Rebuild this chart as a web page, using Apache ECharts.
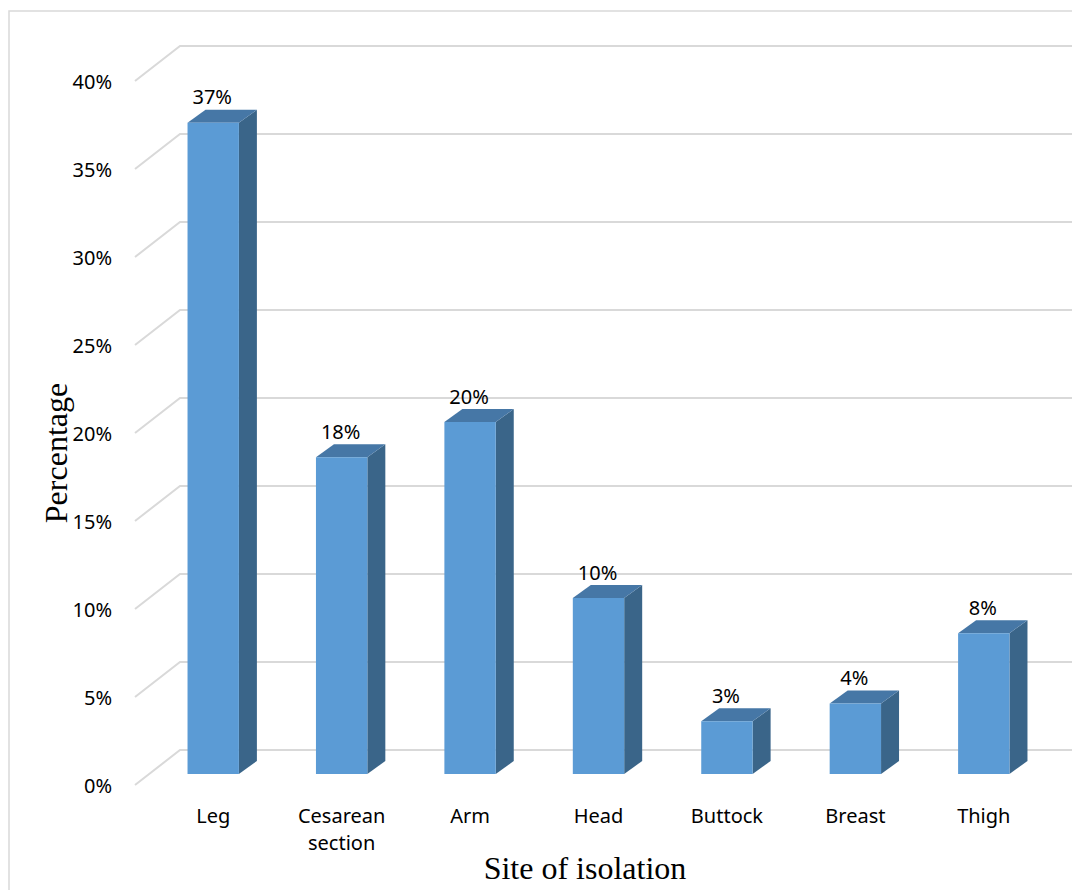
<!DOCTYPE html>
<html>
<head>
<meta charset="utf-8">
<title>Site of isolation</title>
<script src="https://cdn.jsdelivr.net/npm/echarts@6/dist/echarts.min.js"></script>
<style>
  html, body { margin: 0; padding: 0; background: #ffffff; }
  #chart { width: 1072px; height: 890px; }
</style>
</head>
<body>
<div id="chart"></div>
<script>
// Distribution of isolates by body site
const categories = ['Leg', 'Cesarean\nsection', 'Arm', 'Head', 'Buttock', 'Breast', 'Thigh'];
const percentages = [37, 18, 20, 10, 3, 4, 8];
const yTicks = [0, 5, 10, 15, 20, 25, 30, 35, 40];

const LABEL_FONT = '"Noto Sans", "Open Sans", sans-serif';
const TITLE_FONT = '"Liberation Serif", "DejaVu Serif", serif';

// 3D depth of the bars and of the back wall
const DEPTH_X = 18, DEPTH_Y = -13;
const FRONT_FACE = '#5b9bd5';
const SIDE_FACE = '#3a6589';
const TOP_FACE = '#4677a6';

const chart = echarts.init(document.getElementById('chart'), null, { renderer: 'svg' });

function renderGridLine(params, api) {
  const cs = params.coordSys;
  const y = api.coord([0, api.value(0)])[1];
  return {
    type: 'polyline',
    shape: { points: [[cs.x - 14, y + 11], [cs.x + 31, y - 24], [1080, y - 24]] },
    style: { stroke: '#d9d9d9', lineWidth: 2, fill: null },
    silent: true
  };
}

function renderBar(params, api) {
  const idx = api.value(0);
  const val = api.value(1);
  const top = api.coord([idx, val]);
  const base = api.coord([idx, 0]);
  const w = api.size([1, 0])[0] * 0.4;
  const x0 = top[0] - w / 2, x1 = top[0] + w / 2;
  const yT = top[1], yB = base[1];
  return {
    type: 'group',
    children: [
      {
        type: 'polygon',
        shape: { points: [[x1, yT], [x1 + DEPTH_X, yT + DEPTH_Y], [x1 + DEPTH_X, yB + DEPTH_Y], [x1, yB]] },
        style: { fill: SIDE_FACE }
      },
      {
        type: 'polygon',
        shape: { points: [[x0, yT], [x0 + DEPTH_X, yT + DEPTH_Y], [x1 + DEPTH_X, yT + DEPTH_Y], [x1, yT]] },
        style: { fill: TOP_FACE }
      },
      {
        type: 'rect',
        shape: { x: x0, y: yT, width: w, height: yB - yT },
        style: { fill: FRONT_FACE }
      },
      {
        type: 'text',
        x: top[0] - 1,
        y: yT - 26,
        style: {
          text: val + '%',
          fill: '#000000',
          font: '20px ' + LABEL_FONT,
          align: 'center',
          verticalAlign: 'middle'
        }
      }
    ]
  };
}

chart.setOption({
  backgroundColor: '#ffffff',
  animation: false,
  grid: { left: 149, right: 24, top: 70, bottom: 116, containLabel: false },
  xAxis: {
    type: 'category',
    data: categories,
    axisLine: { show: false },
    axisTick: { show: false },
    splitLine: { show: false },
    axisLabel: {
      interval: 0,
      margin: 28,
      color: '#000000',
      fontFamily: LABEL_FONT,
      fontSize: 20,
      lineHeight: 27
    }
  },
  yAxis: {
    type: 'value',
    min: 0,
    max: 40,
    interval: 5,
    axisLine: { show: false },
    axisTick: { show: false },
    splitLine: { show: false },
    axisLabel: {
      margin: 37,
      verticalAlign: 'top',
      lineHeight: 20,
      padding: [1, 0, 0, 0],
      color: '#000000',
      fontFamily: LABEL_FONT,
      fontSize: 20,
      formatter: '{value}%'
    }
  },
  graphic: [
    {
      type: 'rect',
      silent: true,
      z: -10,
      shape: { x: 9, y: 11, width: 1200, height: 1000 },
      style: { fill: null, stroke: '#d9d9d9', lineWidth: 1.5 }
    },
    {
      type: 'text',
      x: 56,
      y: 453,
      rotation: Math.PI / 2,
      style: {
        text: 'Percentage',
        font: '32px ' + TITLE_FONT,
        fill: '#000000',
        align: 'center',
        verticalAlign: 'middle'
      }
    },
    {
      type: 'text',
      x: 585,
      y: 868,
      style: {
        text: 'Site of isolation',
        font: '32px ' + TITLE_FONT,
        fill: '#000000',
        align: 'center',
        verticalAlign: 'middle'
      }
    }
  ],
  series: [
    {
      type: 'custom',
      name: 'gridlines',
      coordinateSystem: 'cartesian2d',
      renderItem: renderGridLine,
      data: yTicks.map(v => [v]),
      encode: { y: 0 },
      clip: false,
      z: 1,
      silent: true
    },
    {
      type: 'custom',
      name: 'Percentage',
      coordinateSystem: 'cartesian2d',
      renderItem: renderBar,
      data: percentages.map((v, i) => [i, v]),
      encode: { x: 0, y: 1 },
      clip: false,
      z: 2
    }
  ]
});
</script>
</body>
</html>
